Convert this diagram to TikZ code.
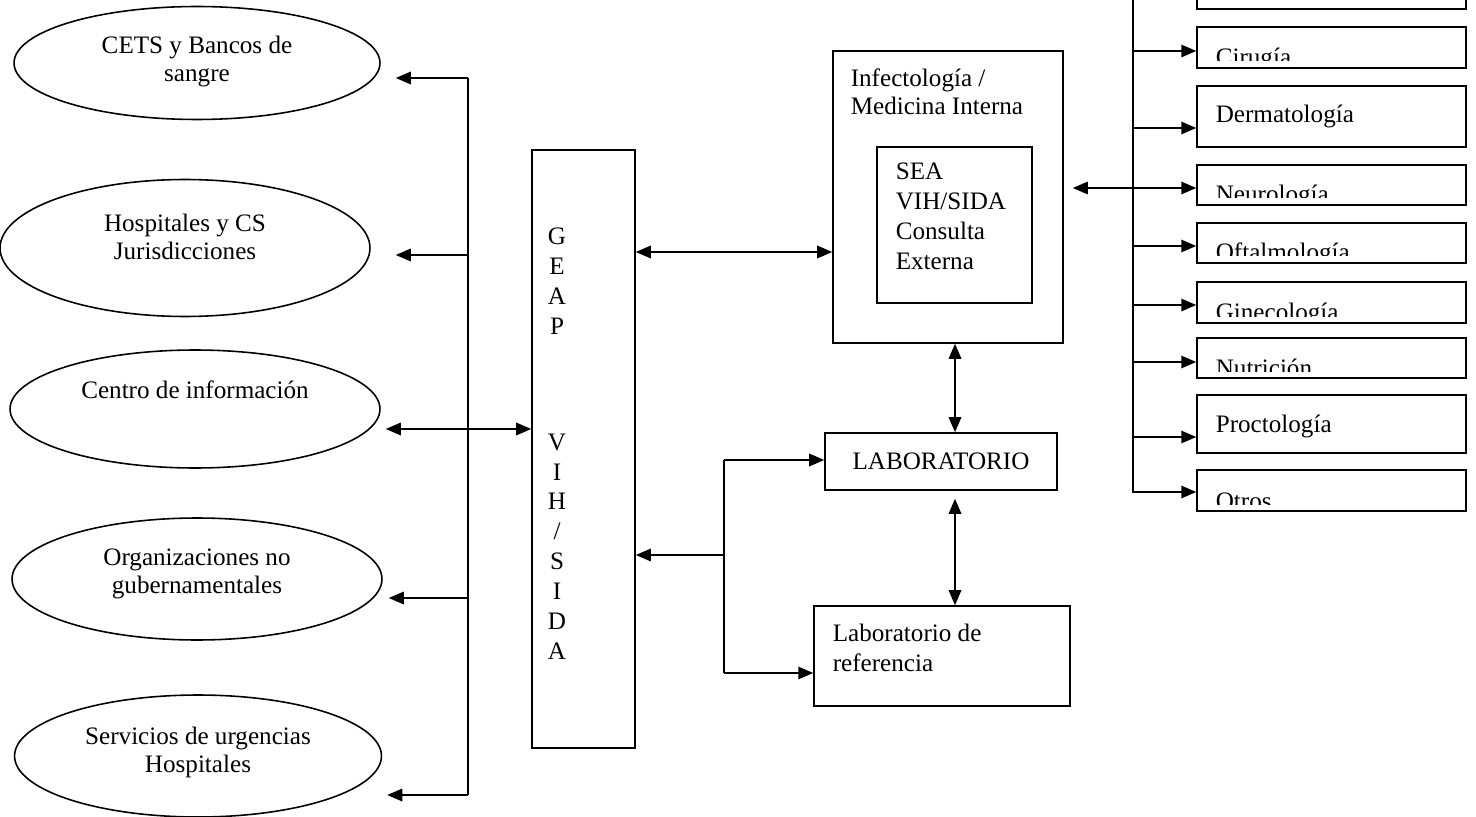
\documentclass[tikz,border=0pt]{standalone}
\usepackage{fontspec}
\setmainfont{Liberation Serif}
\usetikzlibrary{arrows.meta,shapes.geometric,positioning}

\begin{document}
\begin{tikzpicture}[x=0.02cm, y=-0.02cm, line width=0.9pt,
    txt/.style={font=\fontsize{14.3pt}{16pt}\selectfont, inner sep=0pt, align=left},
    txtw/.style={font=\fontsize{14.3pt}{17pt}\selectfont, inner sep=0pt, align=left},
    oval/.style={draw, ellipse, inner sep=0pt, align=center, font=\fontsize{14.3pt}{16pt}\selectfont},
    box/.style={draw, rectangle, inner sep=0pt},
    rbox/.style={draw, rectangle, inner sep=0pt, minimum width=5.38cm},
    arr/.style={-{Triangle[length=0.3cm,width=0.25cm]}},
    dbl/.style={{Triangle[length=0.3cm,width=0.25cm]}-{Triangle[length=0.3cm,width=0.25cm]}}]
\useasboundingbox (0,0) rectangle (1476,817);

% Left column: ellipses
\node[oval, minimum width=7.32cm, minimum height=2.26cm, text depth=0.18cm] (cets) at (197,63) {CETS y Bancos de\\sangre};
\node[oval, minimum width=7.4cm, minimum height=2.74cm, text depth=0.46cm] (hosp) at (185,248) {Hospitales y CS\\Jurisdicciones};
\node[oval, minimum width=7.4cm, minimum height=2.36cm, text depth=0.78cm] (info) at (195,409) {Centro de información};
\node[oval, minimum width=7.4cm, minimum height=2.44cm, text depth=0.3cm] (ong) at (197,579) {Organizaciones no\\gubernamentales};
\node[oval, minimum width=7.34cm, minimum height=2.44cm, text depth=0.26cm] (urg) at (198,756) {Servicios de urgencias\\Hospitales};

% GEAP VIH/SIDA
\node[box, minimum width=2.06cm, minimum height=11.96cm] (geap) at (583.5,449) {};
\node[txtw, align=center, anchor=north] (geapa) at (557,227) {G\\E\\A\\P};
\node[txtw, align=center, anchor=north] (geapb) at (557,433) {V\\I\\H\\/\\S\\I\\D\\A};

% Infectologia / Medicina Interna
\node[box, minimum width=4.6cm, minimum height=5.84cm] (infect) at (948,197) {};
\node[txt, anchor=north west] (infectxt) at (850,68) {Infectología /\\Medicina Interna};
\node[box, minimum width=3.1cm, minimum height=3.12cm] (sea) at (954.5,225) {};
\node[txtw, anchor=north west] (seatxt) at (895,162) {SEA\\VIH/SIDA\\Consulta\\Externa};

% Laboratorios
\node[box, txt, minimum width=4.64cm, minimum height=1.14cm] (lab) at (941,461.5) {LABORATORIO};
\node[box, minimum width=5.12cm, minimum height=2cm] (labref) at (942,656) {};
\node[txtw, anchor=north west] (labreftxt) at (832,623) {Laboratorio de\\referencia};

% Right column: services
\node[rbox, minimum height=0.8cm] (cutbox) at (1331.5,-11) {};
\foreach \n/\t/\b/\a/\l/\txt in {cir/27/68/51/66/Cirugía, derm/86/147/128/123/Dermatología,
    neuro/165/205/188/203/Neurología, oft/223/263/246/261/Oftalmología,
    gine/282/323/305/320/Ginecología, nutri/338/378/362/376/Nutrición,
    procto/395/453/437/432/Proctología, otros/470/511/492/509/Otros}{
  \pgfmathsetmacro\c{(\t+\b)/2}
  \pgfmathsetmacro\h{(\b-\t)*0.02}
  \node[rbox, minimum height=\h cm] (\n) at (1331.5,\c) {};
  \begin{scope}
    \clip (1197,\t) rectangle (1466,\b-7);
    \node[txt, anchor=base west] (t\n) at (1215,\l) {\txt};
  \end{scope}
  \coordinate (r\n) at (1133,\a);
}

% Connections left
\coordinate (lbtop) at (468,78);
\coordinate (lbhosp) at (468,255);
\coordinate (lbinfo) at (468,429);
\coordinate (lbong) at (468,598);
\coordinate (lbbot) at (468,795);
\draw (lbtop) -- (lbbot);
\draw[arr, shorten >=0.3cm] (lbtop) -- (lbtop -| cets.east);
\draw[arr, shorten >=0.5cm] (lbhosp) -- (lbhosp -| hosp.east);
\draw[arr, shorten >=0.12cm] (lbong) -- (lbong -| ong.east);
\draw[arr, shorten >=0.1cm] (lbbot) -- (lbbot -| urg.east);
\draw[dbl, shorten <=0.1cm] (lbinfo -| info.east) -- (lbinfo -| geap.west);

% Connections middle
\coordinate (gi) at (700,252);
\draw[dbl] (gi -| geap.east) -- (gi -| infect.west);
\coordinate (sptop) at (724,460);
\coordinate (spmid) at (724,555);
\coordinate (spbot) at (724,673);
\draw (sptop) -- (spbot);
\draw[arr] (sptop) -- (sptop -| lab.west);
\draw[arr] (spbot) -- (spbot -| labref.west);
\draw[arr] (spmid) -- (spmid -| geap.east);
\coordinate (vx) at (955,400);
\draw[dbl] (infect.south -| vx) -- (lab.north -| vx);
\draw[dbl, shorten <=0.16cm] (lab.south -| vx) -- (labref.north -| vx);

% Connections right
\coordinate (rbtop) at (1133,-10);
\draw[arr] (rbtop) |- (rotros -| otros.west);
\foreach \n in {cir,derm,oft,gine,nutri,procto}
  \draw[arr] (r\n) -- (r\n -| \n.west);
\draw[dbl, shorten <=0.18cm] (infect.east |- rneuro) -- (rneuro -| neuro.west);
\end{tikzpicture}
\end{document}
